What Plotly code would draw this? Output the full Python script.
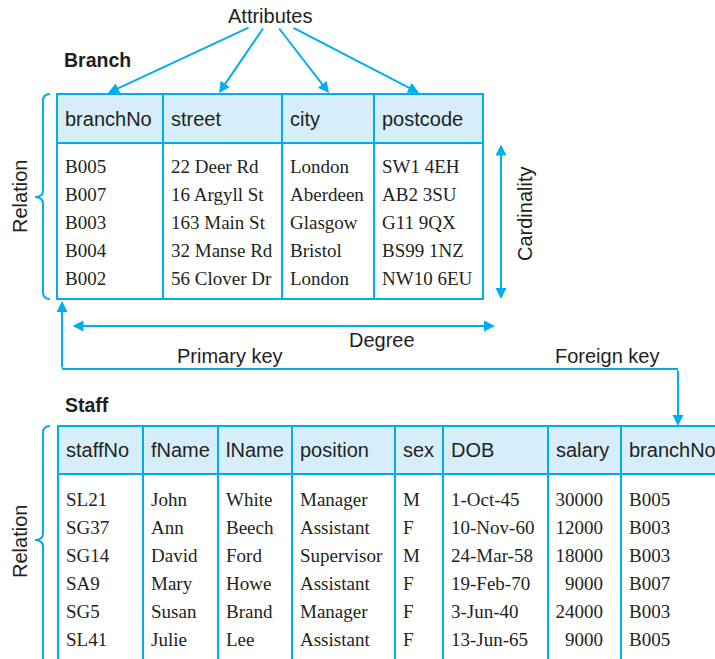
import plotly.graph_objects as go

# ---------------- data ----------------
branch_columns = ["branchNo", "street", "city", "postcode"]
branch_branchNo = ["B005", "B007", "B003", "B004", "B002"]
branch_street = ["22 Deer Rd", "16 Argyll St", "163 Main St", "32 Manse Rd", "56 Clover Dr"]
branch_city = ["London", "Aberdeen", "Glasgow", "Bristol", "London"]
branch_postcode = ["SW1 4EH", "AB2 3SU", "G11 9QX", "BS99 1NZ", "NW10 6EU"]

staff_columns = ["staffNo", "fName", "lName", "position", "sex", "DOB", "salary", "branchNo"]
staff_staffNo = ["SL21", "SG37", "SG14", "SA9", "SG5", "SL41"]
staff_fName = ["John", "Ann", "David", "Mary", "Susan", "Julie"]
staff_lName = ["White", "Beech", "Ford", "Howe", "Brand", "Lee"]
staff_position = ["Manager", "Assistant", "Supervisor", "Assistant", "Manager", "Assistant"]
staff_sex = ["M", "F", "M", "F", "F", "F"]
staff_DOB = ["1-Oct-45", "10-Nov-60", "24-Mar-58", "19-Feb-70", "3-Jun-40", "13-Jun-65"]
staff_salary = [30000, 12000, 18000, 9000, 24000, 9000]
staff_branchNo = ["B005", "B003", "B003", "B007", "B003", "B005"]

# ---------------- layout / style ----------------
W, H = 715, 659
BLUE = "#00AEEF"
FILL = "#D6EEFA"
INK = "#231F20"
SANS = "Liberation Sans, Arial, sans-serif"
SERIF = "Liberation Serif, Times New Roman, serif"
FS_SANS = 20
FS_SERIF = 19
DY = 2  # text baseline nudge

branch_edges = [57, 163, 282, 374, 483]
branch_top, branch_head, branch_bottom = 94, 143, 299
branch_row0, row_step = 166, 28

staff_edges = [58, 143, 218, 292, 395, 443, 548, 621, 760]
staff_top, staff_head, staff_bottom = 426, 474, 720
staff_row0 = 499
PAD = 8

fig = go.Figure()
shapes = []
annotations = []


def table(edges, top, head, bottom, columns):
    shapes.append(dict(type="rect", x0=edges[0], x1=edges[-1], y0=top, y1=head,
                       fillcolor=FILL, line=dict(width=0), layer="below"))
    shapes.append(dict(type="rect", x0=edges[0], x1=edges[-1], y0=top, y1=bottom,
                       line=dict(color=BLUE, width=2)))
    shapes.append(dict(type="line", x0=edges[0], x1=edges[-1], y0=head, y1=head,
                       line=dict(color=BLUE, width=2)))
    for e in edges[1:-1]:
        shapes.append(dict(type="line", x0=e, x1=e, y0=top, y1=bottom,
                           line=dict(color=BLUE, width=2)))
    fig.add_trace(go.Scatter(
        x=[edges[i] + PAD for i in range(len(columns))],
        y=[(top + head) / 2 + DY] * len(columns),
        text=columns, mode="text", textposition="middle right",
        textfont=dict(family=SANS, size=FS_SANS, color=INK), hoverinfo="skip"))


table(branch_edges, branch_top, branch_head, branch_bottom, branch_columns)
table(staff_edges, staff_top, staff_head, staff_bottom, staff_columns)

branch_data = [branch_branchNo, branch_street, branch_city, branch_postcode]
for i, col in enumerate(branch_data):
    fig.add_trace(go.Scatter(
        x=[branch_edges[i] + PAD] * len(col),
        y=[branch_row0 + DY + r * row_step for r in range(len(col))],
        text=col, mode="text", textposition="middle right",
        textfont=dict(family=SERIF, size=FS_SERIF, color=INK), hoverinfo="skip"))

staff_data = [staff_staffNo, staff_fName, staff_lName, staff_position, staff_sex,
              staff_DOB, [str(v) for v in staff_salary], staff_branchNo]
for i, col in enumerate(staff_data):
    if staff_columns[i] == "salary":
        xs = [staff_edges[i + 1] - 18] * len(col)
        tp = "middle left"
    else:
        xs = [staff_edges[i] + PAD] * len(col)
        tp = "middle right"
    fig.add_trace(go.Scatter(
        x=xs, y=[staff_row0 + DY + r * row_step for r in range(len(col))],
        text=col, mode="text", textposition=tp,
        textfont=dict(family=SERIF, size=FS_SERIF, color=INK), hoverinfo="skip"))


def label(x, y, text, bold=False, angle=0, xanchor="center", size=FS_SANS):
    annotations.append(dict(x=x, y=y, xref="x", yref="y", text=f"<b>{text}</b>" if bold else text,
                            showarrow=False, textangle=angle, xanchor=xanchor, yanchor="middle",
                            font=dict(family=SANS, size=size, color=INK)))


def arrow(x, y, ax, ay, both=False):
    a = dict(x=x, y=y, ax=ax, ay=ay, xref="x", yref="y", axref="x", ayref="y",
             text="", showarrow=True, arrowhead=2, arrowsize=1.1, arrowwidth=2,
             arrowcolor=BLUE, standoff=0, startstandoff=0)
    if both:
        a.update(arrowside="end+start", startarrowhead=2, startarrowsize=1.1)
    annotations.append(a)


def brace(x_end, x_mid, x_tip, y0, y_tip, y1):
    r = x_end - x_mid
    path = (f"M {x_end},{y0} Q {x_mid},{y0} {x_mid},{y0 + r} L {x_mid},{y_tip - r} "
            f"Q {x_mid},{y_tip} {x_tip},{y_tip} Q {x_mid},{y_tip} {x_mid},{y_tip + r} "
            f"L {x_mid},{y1 - r} Q {x_mid},{y1} {x_end},{y1}")
    shapes.append(dict(type="path", path=path, line=dict(color=BLUE, width=2)))


label(62, 60, "Branch", bold=True, xanchor="left", size=19.5)
label(63, 405, "Staff", bold=True, xanchor="left", size=19.5)
label(270, 16, "Attributes")
arrow(108, 93, 250, 27)
arrow(219, 93, 264, 27)
arrow(329, 93, 278, 27)
arrow(419, 93, 292, 27)

brace(50, 43, 35, branch_top, 197, branch_bottom)
label(20, 197, "Relation", angle=-90)
brace(50, 43, 35, staff_top, 540, 720)
label(20, 542, "Relation", angle=-90)

arrow(501, 299, 501, 143, both=True)
label(525, 214, "Cardinality", angle=-90)

arrow(495, 326, 71, 326, both=True)
label(382, 340, "Degree")
label(230, 356, "Primary key")
label(607, 356, "Foreign key")

shapes.append(dict(type="line", x0=62, x1=678, y0=369, y1=369, line=dict(color=BLUE, width=2)))
arrow(62, 301, 62, 369)
arrow(678, 426, 678, 369)

fig.update_layout(
    width=W, height=H, margin=dict(l=0, r=0, t=0, b=0),
    paper_bgcolor="white", plot_bgcolor="white", showlegend=False,
    xaxis=dict(range=[0, W], visible=False, fixedrange=True),
    yaxis=dict(range=[H, 0], visible=False, fixedrange=True),
    shapes=shapes, annotations=annotations,
)

fig.write_html("out.html", config={"displayModeBar": False},
               post_script="document.body.style.margin='0';document.body.style.overflow='hidden';")
